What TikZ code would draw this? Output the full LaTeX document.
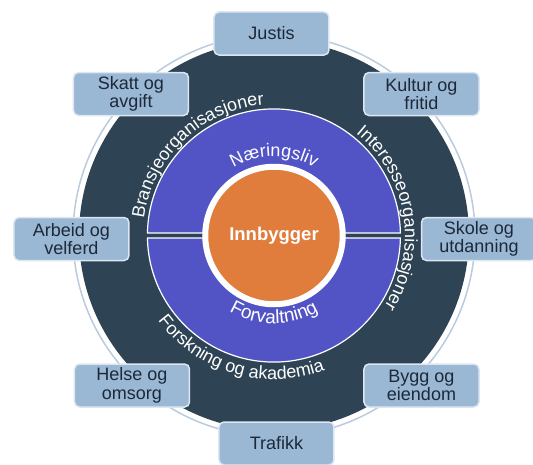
\documentclass[tikz,border=0pt]{standalone}
\usepackage{fontspec}
\setmainfont{Liberation Sans}
\usetikzlibrary{decorations.text}
\definecolor{CSlate}{HTML}{2E4354}
\definecolor{CIndigo}{HTML}{5254C6}
\definecolor{COrange}{HTML}{E07C3C}
\definecolor{CSteel}{HTML}{9AB7D4}
\definecolor{CPale}{HTML}{DCE7F2}
\definecolor{CRing}{HTML}{B8CBDF}
\definecolor{CInk}{HTML}{1C2939}
\newcommand{\ringfont}{\fontsize{18}{20}\selectfont\color{white}}
\newcommand{\halffont}{\fontsize{19}{21}\selectfont\color{white}}

\begin{document}
\begin{tikzpicture}[x=1pt, y=1pt,
    area/.style={rounded corners=5pt, fill=CSteel, draw=CPale, line width=1.5pt, minimum width=115pt, minimum height=43pt, inner sep=2pt, align=center, text=CInk, font=\fontsize{18}{18.5}\selectfont},
    half/.style={fill=CIndigo, draw=white, line width=1.2pt},
    arctext/.style={decorate, decoration={text along path, text align=center, text={|\ringfont|#1}}},
    halftext/.style={decorate, decoration={text along path, text align=center, text={|\halffont|#1}}}]
    \useasboundingbox (-274,-228.5) rectangle (259,235.5);

    % Outer ring
    \draw[CRing, line width=1.5pt] (0,0) circle[radius=201pt];
    \fill[CSlate] (0,0) circle[radius=195pt];

    % Inner halves (upper and lower)
    \draw[half] (-126.4,2.5) -- (126.4,2.5) arc[start angle=1.1, end angle=178.9, radius=126.5pt] -- cycle;
    \draw[half] (-126.4,-2.5) -- (126.4,-2.5) arc[start angle=-1.1, end angle=-178.9, radius=126.5pt] -- cycle;

    % Labels along the rings
    \path[arctext=Bransjeorganisasjoner] (180:131pt) arc[start angle=180, end angle=87, radius=131pt];
    \path[arctext=Interesseorganisasjoner] (62:131pt) arc[start angle=62, end angle=-43.5, radius=131pt];
    \path[arctext=Forskning og akademia] (200:144pt) arc[start angle=200, end angle=307, radius=144pt];
    \path[arctext=Næringsliv] (145:79pt) arc[start angle=145, end angle=35, radius=79pt];
    \path[halftext=Forvaltning] (215:88pt) arc[start angle=215, end angle=325, radius=88pt];

    % Centre
    \node[circle, fill=COrange, draw=white, line width=6pt, minimum size=137.5pt, inner sep=0pt, text=white, font=\fontsize{18.5}{20}\selectfont\bfseries] (hub) at (0,0) {Innbygger};

    % Sectors round the ring
    \node[area] (justis) at (-2.5,202) {Justis};
    \node[area] (skatt) at (-143,141.5) {Skatt og\\avgift};
    \node[area] (kultur) at (147.5,141.5) {Kultur og\\fritid};
    \node[area] (arbeid) at (-202.5,-3.5) {Arbeid og\\velferd};
    \node[area] (skole) at (205,-3.5) {Skole og\\utdanning};
    \node[area] (helse) at (-142,-150) {Helse og\\omsorg};
    \node[area] (bygg) at (147.5,-150) {Bygg og\\eiendom};
    \node[area] (trafikk) at (2.5,-208) {Trafikk};
\end{tikzpicture}
\end{document}
